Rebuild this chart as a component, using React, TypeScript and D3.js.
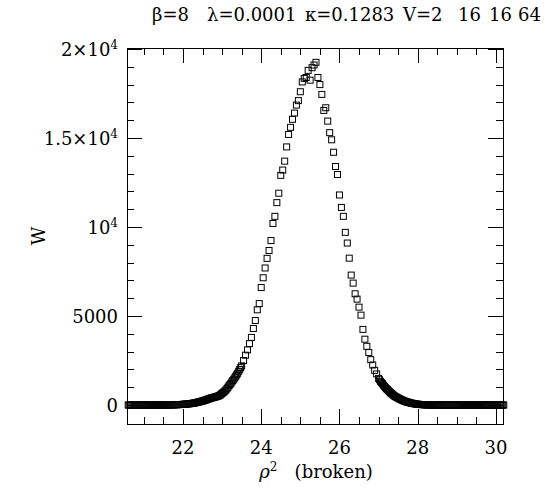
import React from 'react';
import * as d3 from 'd3';

// primary sample grid
const rho2A = [
  20.60, 20.65, 20.70, 20.75, 20.80, 20.85, 20.90, 20.95,
  21.00, 21.05, 21.10, 21.15, 21.20, 21.25, 21.30, 21.35, 21.40, 21.45,
  21.50, 21.55, 21.60, 21.65, 21.70, 21.75, 21.80, 21.85, 21.90, 21.95,
  22.00, 22.05, 22.10, 22.15, 22.20, 22.25, 22.30, 22.35, 22.40, 22.45,
  22.50, 22.55, 22.60, 22.65, 22.70, 22.75, 22.80, 22.85, 22.90, 22.95,
  23.00, 23.05, 23.10, 23.15, 23.20, 23.25, 23.30, 23.35, 23.40, 23.45,
  23.50, 23.55, 23.60, 23.65, 23.70, 23.75, 23.80, 23.85, 23.90, 23.95,
  24.00, 24.05, 24.10, 24.15, 24.20, 24.25, 24.30, 24.35, 24.40, 24.45,
  24.50, 24.55, 24.60, 24.65, 24.70, 24.75, 24.80, 24.85, 24.90, 24.95,
  25.00, 25.05, 25.10, 25.15, 25.20, 25.25, 25.30, 25.35, 25.40, 25.45,
  25.50, 25.55, 25.60, 25.65, 25.70, 25.75, 25.80, 25.85, 25.90, 25.95,
  26.00, 26.05, 26.10, 26.15, 26.20, 26.25, 26.30, 26.35, 26.40, 26.45,
  26.50, 26.55, 26.60, 26.65, 26.70, 26.75, 26.80, 26.85, 26.90, 26.95,
  27.00, 27.05, 27.10, 27.15, 27.20, 27.25, 27.30, 27.35, 27.40, 27.45,
  27.50, 27.55, 27.60, 27.65, 27.70, 27.75, 27.80, 27.85, 27.90, 27.95,
  28.00, 28.05, 28.10, 28.15, 28.20, 28.25, 28.30, 28.35, 28.40, 28.45,
  28.50, 28.55, 28.60, 28.65, 28.70, 28.75, 28.80, 28.85, 28.90, 28.95,
  29.00, 29.05, 29.10, 29.15, 29.20, 29.25, 29.30, 29.35, 29.40, 29.45,
  29.50, 29.55, 29.60, 29.65, 29.70, 29.75, 29.80, 29.85, 29.90, 29.95,
  30.00, 30.05, 30.10, 30.15, 30.20,
];

const weightA = [
  0, 0, 0, 0, 0, 0, 0, 0,
  0, 0, 0, 1, 1, 1, 2, 2, 3, 4,
  4, 5, 7, 9, 11, 14, 17, 21, 26, 32,
  40, 48, 58, 70, 85, 100, 120, 145, 170, 200,
  230, 260, 300, 340, 380, 410, 440, 470, 500, 560,
  660, 740, 850, 1000, 1150, 1300, 1450, 1620, 1790, 2000,
  2200, 2500, 2800, 3100, 3450, 3800, 4300, 4750, 5350, 5700,
  6600, 7150, 7700, 8240, 8680, 9240, 10200, 10600, 11370, 11900,
  12900, 13200, 13700, 14500, 15200, 15600, 16050, 16400, 16850, 17100,
  17600, 18150, 18350, 18400, 18800, 18250, 18950, 19100, 19250, 18400,
  18000, 17450, 16550, 16700, 15950, 15300, 14900, 14200, 13400, 12950,
  11800, 11100, 10600, 9700, 9100, 8250, 7300, 6850, 6250, 5950,
  5500, 5050, 4250, 3700, 3300, 2950, 2550, 2250, 1950, 1750,
  1500, 1330, 1200, 1050, 920, 820, 700, 610, 520, 450,
  390, 330, 280, 230, 190, 160, 130, 100, 80, 60,
  45, 35, 25, 20, 15, 11, 8, 6, 4, 3,
  2, 2, 1, 1, 1, 0, 0, 0, 0, 0,
  0, 0, 0, 0, 0, 0, 0, 0, 0, 0,
  0, 0, 0, 0, 0, 0, 0, 0, 0, 0,
  0, 0, 0, 0, 0,
];

// extra tail samples, left side
const rho2BLeft = [
  20.625, 20.675, 20.725, 20.775, 20.825, 20.875, 20.925, 20.975,
  21.025, 21.075, 21.125, 21.175, 21.225, 21.275, 21.325, 21.375, 21.425, 21.475,
  21.525, 21.575, 21.625, 21.675, 21.725, 21.775, 21.825, 21.875, 21.925, 21.975,
  22.025, 22.075, 22.125, 22.175, 22.225, 22.275, 22.325, 22.375, 22.425, 22.475,
  22.525, 22.575, 22.625, 22.675, 22.725, 22.775, 22.825, 22.875, 22.925, 22.975,
  23.025, 23.075, 23.125, 23.175, 23.225, 23.275, 23.325, 23.375, 23.425, 23.475,
];

const weightBLeft = [
  0, 0, 0, 0, 0, 0, 0, 0,
  0, 0, 1, 1, 1, 2, 2, 3, 3, 4,
  5, 6, 8, 10, 12, 15, 19, 23, 29, 36,
  44, 53, 64, 78, 92, 110, 132, 158, 185, 215,
  245, 280, 320, 360, 395, 425, 455, 490, 530, 610,
  700, 800, 920, 1080, 1220, 1380, 1530, 1700, 1900, 2100,
];

// extra tail samples, right side
const rho2BRight = [
  27.025, 27.075, 27.125, 27.175, 27.225, 27.275, 27.325, 27.375, 27.425, 27.475,
  27.525, 27.575, 27.625, 27.675, 27.725, 27.775, 27.825, 27.875, 27.925, 27.975,
  28.025, 28.075, 28.125, 28.175, 28.225, 28.275, 28.325, 28.375, 28.425, 28.475,
  28.525, 28.575, 28.625, 28.675, 28.725, 28.775, 28.825, 28.875, 28.925, 28.975,
  29.025, 29.075, 29.125, 29.175, 29.225, 29.275, 29.325, 29.375, 29.425, 29.475,
  29.525, 29.575, 29.625, 29.675, 29.725, 29.775, 29.825, 29.875, 29.925, 29.975,
  30.025, 30.075, 30.125, 30.175,
];

const weightBRight = [
  1420, 1260, 1120, 980, 870, 760, 650, 560, 480, 420,
  360, 305, 255, 210, 175, 145, 115, 90, 70, 52,
  40, 30, 22, 17, 13, 9, 7, 5, 3, 2,
  2, 1, 1, 1, 0, 0, 0, 0, 0, 0,
  0, 0, 0, 0, 0, 0, 0, 0, 0, 0,
  0, 0, 0, 0, 0, 0, 0, 0, 0, 0,
  0, 0, 0, 0,
];

const xTickValues = [22, 24, 26, 28, 30];
const xTickLabels = ['22', '24', '26', '28', '30'];
const yTickValues = [0, 5000, 10000, 15000, 20000];
// [mantissa, superscript]
const yTickLabels: [string, string][] = [
  ['0', ''],
  ['5000', ''],
  ['10', '4'],
  ['1.5×10', '4'],
  ['2×10', '4'],
];
const titleParts = ['β=8', 'λ=0.0001', 'κ=0.1283', 'V=2', '16', '16', '64'];
const titleX = [152, 207, 305, 403, 458, 489, 518];
const xAxisTitle = 'ρ';
const xAxisSup = '2';
const xAxisNote = '(broken)';
const yAxisTitle = 'W';

export default function App() {
  const width = 545;
  const height = 494;
  const left = 127;
  const right = 503;
  const top = 48;
  const bottom = 424;
  const font = "'DejaVu Serif', 'Liberation Serif', serif";

  const x = d3.scaleLinear().domain([20.57, 30.18]).range([left, right]);
  const y = d3.scaleLinear().domain([-1064, 20056]).range([bottom, top]);

  const xMinor = d3.range(21, 30.01, 0.5);
  const yMinor = d3.range(0, 20001, 1000);
  const majLen = 15;
  const minLen = 7;
  const sq = 6;

  const series = [
    { xs: rho2A, ws: weightA },
    { xs: rho2BLeft, ws: weightBLeft },
    { xs: rho2BRight, ws: weightBRight },
  ];

  return (
    <svg
      width={width}
      height={height}
      style={{ position: 'absolute', left: 0, top: 0, background: '#fff', fontFamily: font }}
    >
      <rect x={0} y={0} width={width} height={height} fill="#fff" />
      {/* title */}
      <text y={21} fontSize={18} fill="#000" style={{ fontFamily: font }}>
        {titleParts.map((t, i) => (
          <tspan key={i} x={titleX[i]}>
            {t}
          </tspan>
        ))}
      </text>

      {/* data */}
      <g fill="none" stroke="#000" strokeWidth={1}>
        {series.map((s, k) =>
          s.xs.map((r, i) => (
            <rect
              key={`${k}-${i}`}
              x={x(r) - sq / 2}
              y={y(s.ws[i]) - sq / 2}
              width={sq}
              height={sq}
            />
          ))
        )}
      </g>

      {/* frame */}
      <rect x={left + 0.5} y={top + 0.5} width={right - left} height={bottom - top} fill="none" stroke="#000" strokeWidth={1} />

      {/* ticks */}
      <g stroke="#000" strokeWidth={1}>
        {xMinor.map((v, i) => {
          const isMaj = xTickValues.includes(v);
          const L = isMaj ? majLen : minLen;
          const px = Math.round(x(v)) + 0.5;
          return (
            <g key={i}>
              <line x1={px} x2={px} y1={bottom} y2={bottom - L} />
              <line x1={px} x2={px} y1={top} y2={top + L} />
            </g>
          );
        })}
        {yMinor.map((v, i) => {
          const isMaj = yTickValues.includes(v);
          const L = isMaj ? majLen : minLen;
          const py = Math.round(y(v)) + 0.5;
          return (
            <g key={i}>
              <line x1={left} x2={left + L} y1={py} y2={py} />
              <line x1={right} x2={right - L} y1={py} y2={py} />
            </g>
          );
        })}
      </g>

      {/* x tick labels */}
      <g fontSize={18} fill="#000" textAnchor="middle" style={{ fontFamily: font }}>
        {xTickValues.map((v, i) => (
          <text key={i} x={x(v)} y={bottom + 30}>
            {xTickLabels[i]}
          </text>
        ))}
      </g>

      {/* y tick labels */}
      <g fontSize={18} fill="#000" textAnchor="end" style={{ fontFamily: font }}>
        {yTickValues.map((v, i) => (
          <text key={i} x={left - 9} y={y(v) + 7}>
            {yTickLabels[i][0]}
            {yTickLabels[i][1] ? (
              <tspan fontSize={12} dy={-7}>
                {yTickLabels[i][1]}
              </tspan>
            ) : null}
          </text>
        ))}
      </g>

      {/* axis titles */}
      <text x={316} y={478} fontSize={18} fill="#000" textAnchor="middle" xmlSpace="preserve" style={{ fontFamily: font }}>
        <tspan fontStyle="italic">{xAxisTitle}</tspan>
        <tspan fontSize={12} dy={-7}>{xAxisSup}</tspan>
        <tspan dy={7}>{'   ' + xAxisNote}</tspan>
      </text>
      <text
        transform={`translate(45, ${(top + bottom) / 2}) rotate(-90)`}
        fontSize={18}
        fill="#000"
        textAnchor="middle"
        style={{ fontFamily: font }}
      >
        {yAxisTitle}
      </text>
    </svg>
  );
}
